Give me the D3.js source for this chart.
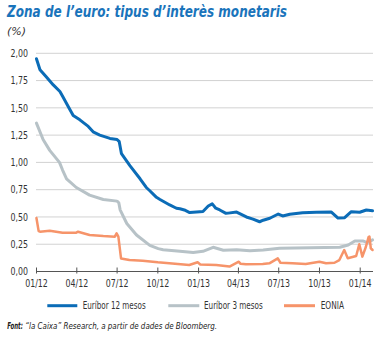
<!DOCTYPE html>
<html>
<head>
<meta charset="utf-8">
<script src="https://cdn.jsdelivr.net/npm/d3@7"></script>
<style>
html,body{margin:0;padding:0;background:#fff;}
svg{display:block;}
text{font-family:"Liberation Sans Narrow","DejaVu Sans Condensed","Roboto Condensed",Roboto,sans-serif;}
</style>
</head>
<body>
<svg id="chart" width="382" height="338"></svg>
<script>
// ---- data ----
const euribor12 = [
["2012-01-02",1.95],["2012-01-10",1.85],["2012-01-25",1.78],["2012-02-09",1.71],["2012-02-24",1.65],
["2012-03-02",1.60],["2012-03-14",1.51],["2012-03-25",1.43],["2012-04-09",1.39],["2012-04-28",1.33],
["2012-05-09",1.28],["2012-05-24",1.25],["2012-06-16",1.22],["2012-07-02",1.21],["2012-07-07",1.19],
["2012-07-12",1.08],["2012-07-31",0.97],["2012-08-23",0.85],["2012-09-06",0.77],["2012-09-14",0.74],
["2012-09-29",0.68],["2012-10-07",0.66],["2012-10-29",0.61],["2012-11-13",0.58],["2012-11-21",0.575],
["2012-12-01",0.564],["2012-12-13",0.54],["2013-01-05",0.548],["2013-01-12",0.55],["2013-01-24",0.60],
["2013-02-02",0.62],["2013-02-10",0.58],["2013-02-19",0.564],["2013-03-05",0.533],["2013-03-10",0.535],
["2013-03-29",0.545],["2013-04-20",0.50],["2013-05-05",0.48],["2013-05-20",0.456],["2013-05-28",0.47],
["2013-06-12",0.488],["2013-07-01",0.527],["2013-07-11",0.509],["2013-07-27",0.524],["2013-08-25",0.539],
["2013-09-25",0.543],["2013-10-29",0.545],["2013-11-13",0.49],["2013-11-28",0.493],["2013-12-13",0.548],
["2014-01-01",0.543],["2014-01-16",0.564],["2014-01-30",0.557]
];
const euribor3 = [
["2012-01-02",1.36],["2012-01-17",1.21],["2012-02-01",1.11],["2012-02-23",1.00],["2012-03-01",0.93],
["2012-03-10",0.85],["2012-04-01",0.77],["2012-05-01",0.70],["2012-06-01",0.66],["2012-07-02",0.645],
["2012-07-06",0.63],["2012-07-09",0.565],["2012-07-24",0.44],["2012-08-15",0.335],["2012-09-14",0.24],
["2012-10-03",0.21],["2012-10-14",0.20],["2012-11-21",0.185],["2012-12-21",0.175],["2013-01-12",0.185],
["2013-02-04",0.222],["2013-02-27",0.195],["2013-03-29",0.20],["2013-04-28",0.19],["2013-05-28",0.197],
["2013-07-04",0.213],["2013-09-10",0.218],["2013-11-17",0.222],["2013-12-06",0.243],["2013-12-21",0.28],
["2014-01-08",0.28],["2014-01-18",0.265],["2014-01-30",0.29]
];
const eonia = [
["2012-01-02",0.49],["2012-01-07",0.37],["2012-01-10",0.365],["2012-02-01",0.374],["2012-03-01",0.356],
["2012-04-01",0.356],["2012-04-05",0.365],["2012-05-01",0.335],["2012-06-01",0.325],["2012-06-27",0.319],
["2012-07-01",0.35],["2012-07-05",0.319],["2012-07-11",0.12],["2012-07-30",0.105],["2012-08-29",0.099],
["2012-10-02",0.084],["2012-10-28",0.075],["2012-12-12",0.06],["2012-12-31",0.085],["2013-01-06",0.065],
["2013-02-11",0.06],["2013-03-13",0.045],["2013-04-03",0.09],["2013-04-07",0.07],["2013-04-19",0.066],
["2013-05-27",0.069],["2013-06-11",0.075],["2013-06-30",0.12],["2013-07-06",0.08],["2013-08-02",0.075],
["2013-09-01",0.069],["2013-10-02",0.09],["2013-10-17",0.075],["2013-11-05",0.08],["2013-11-16",0.105],
["2013-11-27",0.197],["2013-12-05",0.121],["2013-12-24",0.142],["2013-12-31",0.25],["2014-01-07",0.136],
["2014-01-15",0.227],["2014-01-21",0.315],["2014-01-23",0.32],["2014-01-26",0.213],["2014-01-30",0.197]
];
const yTicks = [0,0.25,0.5,0.75,1,1.25,1.5,1.75,2];
const xTickDates = ["2012-01-01","2012-04-01","2012-07-01","2012-10-01","2013-01-01","2013-04-01","2013-07-01","2013-10-01","2014-01-01"];
const seriesNames = ["Euríbor 12 mesos","Euríbor 3 mesos","EONIA"];
const titleText = "Zona de l\u2019euro: tipus d\u2019interès monetaris";
const sourceLabel = "Font:";
const sourceText = "\u201cla Caixa\u201d Research, a partir de dades de Bloomberg.";

// ---- drawing ----
const parse = d3.timeParse("%Y-%m-%d");
const svg = d3.select("#chart");
const colors = ["#0b6cb7","#b7c2c7","#f6946a"];
const widths = [3,3,2.5];

const x = d3.scaleTime().domain([parse("2012-01-01"), parse("2014-01-31")]).range([36,373]);
const y = d3.scaleLinear().domain([0,2]).range([271.5,53.3]);

// helper: squeeze text horizontally (keeping its height) to the reference width
function squeeze(sel, x0, y0, target){
  sel.attr("x",0).attr("y",0);
  const w = sel.node().getComputedTextLength();
  const k = w > 0 ? Math.min(1, target / w) : 1;
  sel.attr("transform", `translate(${x0},${y0}) scale(${k},1)`);
  return sel;
}

// title
svg.append("text").attr("x",7).attr("y",17)
  .attr("font-size",16).attr("font-weight","bold").attr("font-style","italic")
  .attr("fill","#1a74bb").attr("textLength",280).attr("lengthAdjust","spacingAndGlyphs")
  .text(titleText);
svg.append("text").attr("x",7).attr("y",35).attr("font-size",11).attr("font-style","italic")
  .attr("fill","#333").attr("textLength",19).attr("lengthAdjust","spacingAndGlyphs").text("(%)");

// grid
svg.append("g").selectAll("line").data(yTicks.filter(d=>d>0)).join("line")
  .attr("x1",36).attr("x2",373).attr("y1",d=>y(d)).attr("y2",d=>y(d))
  .attr("stroke","#d2d2d2").attr("stroke-width",1);

// y labels
const fmt = d => d3.format(".2f")(d).replace(".",",");
svg.append("g").selectAll("text").data(yTicks).join("text")
  .attr("x",28).attr("y",d=>y(d)+3.8).attr("text-anchor","end")
  .attr("font-size",11).attr("fill","#333")
  .attr("textLength",17.5).attr("lengthAdjust","spacingAndGlyphs").text(fmt);

// x axis
const xAxis = d3.axisBottom(x).tickValues(xTickDates.map(parse))
  .tickFormat(d3.timeFormat("%m/%y")).tickSize(-4).tickPadding(8);
const gx = svg.append("g").attr("transform",`translate(0,${y(0)})`).call(xAxis);
gx.select(".domain").attr("stroke","#555").attr("d","M36,0H373");
gx.selectAll(".tick line").attr("stroke","#555").attr("y1",2);
gx.selectAll(".tick text").attr("font-size",11).attr("fill","#333").attr("font-family",null)
  .attr("textLength",22.7).attr("lengthAdjust","spacingAndGlyphs");

// lines
const line = d3.line().x(d=>x(parse(d[0]))).y(d=>y(d[1])).curve(d3.curveLinear);
[euribor12, euribor3, eonia].forEach((s,i)=>{
  svg.append("path").datum(s).attr("d",line).attr("fill","none")
    .attr("stroke",colors[i]).attr("stroke-width",widths[i])
    .attr("stroke-linejoin","round").attr("stroke-linecap","round");
});

// legend
const legX = [[47.3,77.3,82.7,63],[168.3,199.3,204,58.7],[284,315,320.7,23.3]];
seriesNames.forEach((n,i)=>{
  const [a,b,t,w] = legX[i];
  svg.append("line").attr("x1",a).attr("x2",b).attr("y1",305.7).attr("y2",305.7)
    .attr("stroke",colors[i]).attr("stroke-width",3);
  svg.append("text").attr("x",t).attr("y",309.3).attr("font-size",10).attr("fill","#333")
    .attr("textLength",w).attr("lengthAdjust","spacingAndGlyphs").text(n);
});

// source
const srcLab = svg.append("text").attr("font-size",9.5)
  .attr("font-style","italic").attr("font-weight","bold").attr("fill","#222").text(sourceLabel);
squeeze(srcLab, 7.3, 329.3, 15.6);
const srcTxt = svg.append("text").attr("font-size",9.5)
  .attr("font-style","italic").attr("fill","#222").text(sourceText);
squeeze(srcTxt, 25.2, 329.3, 192);
</script>
</body>
</html>
